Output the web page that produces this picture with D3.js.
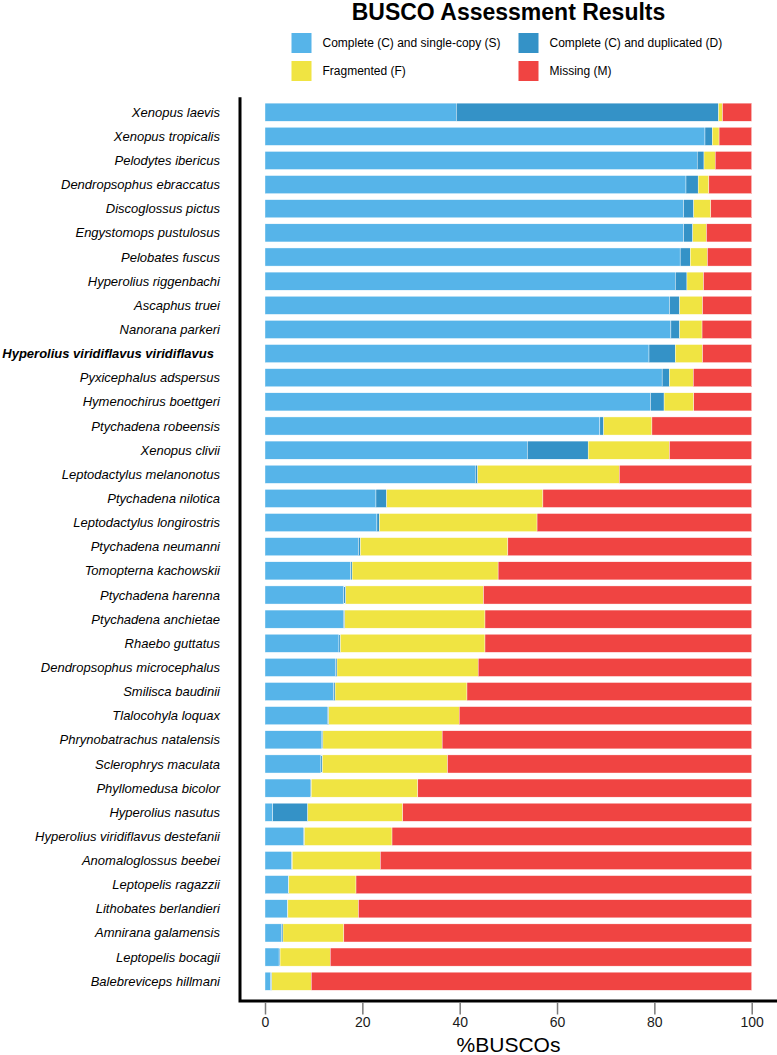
<!DOCTYPE html>
<html>
<head>
<meta charset="utf-8">
<script src="https://cdn.jsdelivr.net/npm/d3@7"></script>
<style>
  body { margin: 0; background: #fff; }
  svg { display: block; font-family: "Liberation Sans", Arial, Helvetica, sans-serif; }
  .y-label { font-style: italic; font-size: 13px; fill: #000; }
  .y-label.highlight { font-weight: bold; font-size: 13px; }
  .x-axis text { font-size: 14px; fill: #1a1a1a; }
  .x-axis line { stroke: #7a7a7a; stroke-width: 1.5; }
</style>
</head>
<body>
<svg id="chart"></svg>
<script>
// Species, top to bottom
const species = [
  'Xenopus laevis', 'Xenopus tropicalis', 'Pelodytes ibericus', 'Dendropsophus ebraccatus',
  'Discoglossus pictus', 'Engystomops pustulosus', 'Pelobates fuscus', 'Hyperolius riggenbachi',
  'Ascaphus truei', 'Nanorana parkeri', 'Hyperolius viridiflavus viridiflavus', 'Pyxicephalus adspersus',
  'Hymenochirus boettgeri', 'Ptychadena robeensis', 'Xenopus clivii', 'Leptodactylus melanonotus',
  'Ptychadena nilotica', 'Leptodactylus longirostris', 'Ptychadena neumanni', 'Tomopterna kachowskii',
  'Ptychadena harenna', 'Ptychadena anchietae', 'Rhaebo guttatus', 'Dendropsophus microcephalus',
  'Smilisca baudinii', 'Tlalocohyla loquax', 'Phrynobatrachus natalensis', 'Sclerophrys maculata',
  'Phyllomedusa bicolor', 'Hyperolius nasutus', 'Hyperolius viridiflavus destefanii', 'Anomaloglossus beebei',
  'Leptopelis ragazzii', 'Lithobates berlandieri', 'Amnirana galamensis', 'Leptopelis bocagii',
  'Balebreviceps hillmani'
];
const highlighted = 'Hyperolius viridiflavus viridiflavus';

// Percentages
const single = [39.3, 90.4, 88.8, 86.5, 86.0, 86.0, 85.3, 84.3, 83.1, 83.4, 78.9, 81.6, 79.2, 68.8, 53.9, 43.2,
  22.8, 23.0, 19.2, 17.6, 16.2, 16.1, 15.2, 14.5, 14.1, 12.8, 11.7, 11.5, 9.3, 1.6, 7.9, 5.5, 4.8, 4.6, 3.4, 2.9, 1.2];
const duplicated = [53.9, 1.5, 1.4, 2.5, 2.1, 1.9, 2.1, 2.4, 2.1, 1.8, 5.4, 1.5, 2.8, 0.8, 12.5, 0.5,
  2.2, 0.5, 0.4, 0.3, 0.4, 0.3, 0.3, 0.3, 0.3, 0.3, 0.2, 0.3, 0.2, 7.2, 0.2, 0.1, 0.1, 0.1, 0.3, 0.2, 0.2];
const fragmented = [0.8, 1.4, 2.3, 2.2, 3.5, 2.8, 3.5, 3.4, 4.7, 4.6, 5.6, 4.9, 6.1, 9.9, 16.7, 29.1,
  32.1, 32.4, 30.3, 30.0, 28.3, 28.8, 29.7, 29.0, 27.1, 26.8, 24.5, 25.7, 21.9, 19.5, 18.0, 18.1, 13.8, 14.5, 12.5, 10.3, 8.1];
const missing = [6.0, 6.7, 7.5, 8.8, 8.4, 9.3, 9.1, 9.9, 10.1, 10.2, 10.1, 12.0, 11.9, 20.5, 16.9, 27.2,
  42.9, 44.1, 50.1, 52.1, 55.1, 54.8, 54.8, 56.2, 58.5, 60.1, 63.6, 62.5, 68.6, 71.7, 73.9, 76.3, 81.3, 80.8, 83.8, 86.6, 90.5];

const categories = ['S', 'D', 'F', 'M'];
const categoryLabels = ['Complete (C) and single-copy (S)', 'Complete (C) and duplicated (D)', 'Fragmented (F)', 'Missing (M)'];
const categoryColors = ['#56B4E9', '#3492C7', '#F0E442', '#F04442'];
const xTicks = [0, 20, 40, 60, 80, 100];

const width = 777, height = 1055;

// Build table for d3.stack
const table = species.map((name, i) => ({
  name: name, S: single[i], D: duplicated[i], F: fragmented[i], M: missing[i]
}));

const svg = d3.select('#chart')
    .attr('width', width)
    .attr('height', height);

// Panel geometry
const panel = {left: 240, right: 777, top: 97.7, bottom: 995.7, axisY: 1001};

const xScale = d3.scaleLinear()
    .domain([0, 100])
    .range([265, 751.7]);

const yScale = d3.scaleBand()
    .domain(species)
    .range([panel.top, panel.bottom])
    .paddingInner(0.25)
    .paddingOuter(0.225);

const colorScale = d3.scaleOrdinal()
    .domain(categories)
    .range(categoryColors);

const series = d3.stack().keys(categories)(table);

// Bars
svg.append('g')
  .selectAll('g')
  .data(series)
  .join('g')
    .attr('fill', d => colorScale(d.key))
  .selectAll('rect')
  .data(d => d)
  .join('rect')
    .attr('x', d => xScale(d[0]))
    .attr('y', d => yScale(d.data.name))
    .attr('width', d => Math.max(0, xScale(d[1]) - xScale(d[0])))
    .attr('height', yScale.bandwidth())
    .attr('stroke', '#fff')
    .attr('stroke-width', 0.4);

// Species labels
svg.append('g')
  .selectAll('text')
  .data(species)
  .join('text')
    .attr('class', d => d === highlighted ? 'y-label highlight' : 'y-label')
    .attr('x', d => d === highlighted ? 214 : 220)
    .attr('y', d => yScale(d) + yScale.bandwidth() / 2)
    .attr('dy', '0.35em')
    .attr('text-anchor', 'end')
    .text(d => d);

// Axis lines (left + bottom)
svg.append('path')
    .attr('d', `M${panel.left},${panel.top - 0.5}V${panel.axisY}H${panel.right}`)
    .attr('fill', 'none')
    .attr('stroke', '#000')
    .attr('stroke-width', 3);

// X axis
const xAxis = d3.axisBottom(xScale)
    .tickValues(xTicks)
    .tickSize(12)
    .tickPadding(3)
    .tickSizeOuter(0);

svg.append('g')
    .attr('class', 'x-axis')
    .attr('transform', `translate(0,${panel.axisY + 1.5})`)
    .call(xAxis)
    .call(g => g.select('.domain').remove())
    .call(g => g.selectAll('text').attr('font-family', null));

svg.append('text')
    .attr('x', (panel.left + panel.right) / 2)
    .attr('y', 1052)
    .attr('text-anchor', 'middle')
    .attr('font-size', 21)
    .text('%BUSCOs');

// Title
svg.append('text')
    .attr('x', (panel.left + panel.right) / 2)
    .attr('y', 20)
    .attr('text-anchor', 'middle')
    .attr('font-size', 23)
    .attr('font-weight', 'bold')
    .text('BUSCO Assessment Results');

// Legend, two columns
const legendX = [291.5, 518.5];
const legendY = [33, 61];
const legend = svg.append('g')
  .selectAll('g')
  .data(categories)
  .join('g')
    .attr('transform', (d, i) => `translate(${legendX[i % 2]},${legendY[Math.floor(i / 2)]})`);

legend.append('rect')
    .attr('width', 20)
    .attr('height', 20)
    .attr('fill', d => colorScale(d));

legend.append('text')
    .attr('x', 31)
    .attr('y', 10)
    .attr('dy', '0.35em')
    .attr('font-size', 12)
    .text((d, i) => categoryLabels[i]);
</script>
</body>
</html>
